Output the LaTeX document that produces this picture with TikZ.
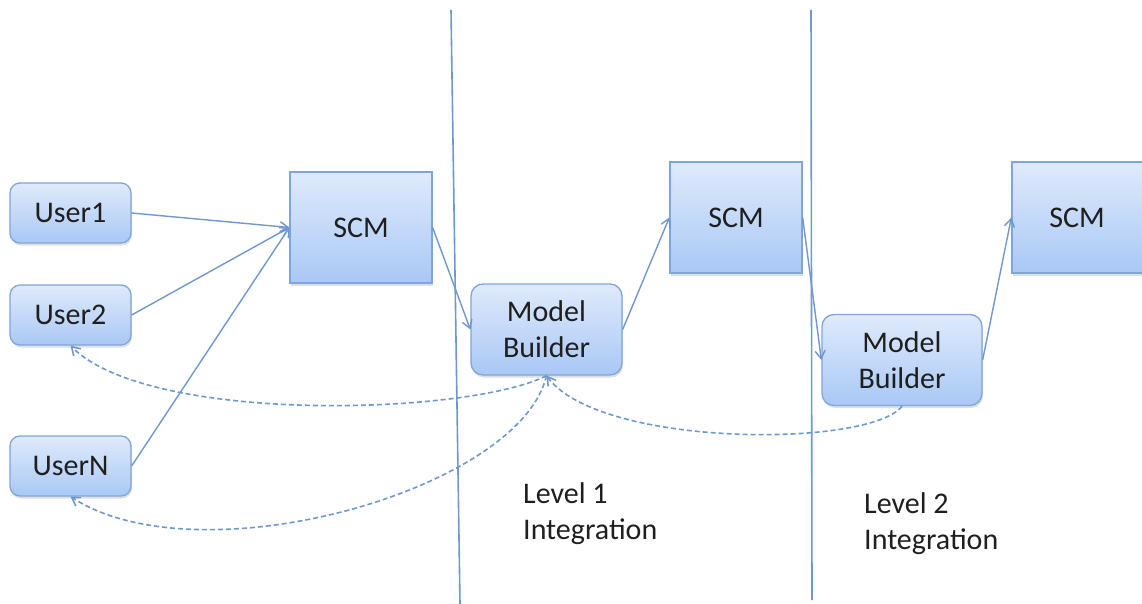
\documentclass[tikz,border=0pt]{standalone}
\usepackage{fontspec}
\setmainfont{Carlito}
\usetikzlibrary{arrows.meta,shadows}
\definecolor{boxtop}{HTML}{DFEAFC}
\definecolor{boxbot}{HTML}{A9C8F5}
\definecolor{boxedge}{HTML}{7FA6DA}
\definecolor{wire}{HTML}{6E98CF}
\definecolor{ink}{HTML}{1F1F1F}
\tikzset{
  base/.style={draw=boxedge, line width=1.3pt, top color=boxtop, bottom color=boxbot,
    text=ink, font=\fontsize{30}{36}\selectfont, align=center, inner sep=0pt,
    drop shadow={shadow xshift=1pt, shadow yshift=-2.5pt, opacity=0.25}},
  userbox/.style={base, rounded corners=10pt, minimum width=121pt, minimum height=60pt},
  scmbox/.style={base, minimum height=111pt},
  mbbox/.style={base, rounded corners=12pt, minimum height=91pt},
  flow/.style={draw=wire, line width=1.4pt, -{Straight Barb[length=8pt,width=10pt]}},
  back/.style={draw=wire, line width=1.6pt, dash pattern=on 5pt off 3pt,
    -{Straight Barb[length=8pt,width=10pt]}},
  divider/.style={draw=wire, line width=1.6pt},
  caption/.style={text=ink, font=\fontsize{30}{36}\selectfont, align=left, inner sep=0pt, anchor=north west}
}
\begin{document}
\begin{tikzpicture}[x=1pt,y=-1pt]
\useasboundingbox (0,0) rectangle (1142,604);
\clip (0,0) rectangle (1142,604);

% integration level boundaries
\coordinate (d1t) at (451,10);
\coordinate (d1b) at (460,604);
\coordinate (d2t) at (811,10);
\coordinate (d2b) at (812,600);
\draw[divider] (d1t) -- (d1b);
\draw[divider] (d2t) -- (d2b);

% users
\node[userbox] (u1) at (70.5,213) {User1};
\node[userbox] (u2) at (70.5,315) {User2};
\node[userbox] (un) at (70.5,466) {UserN};

% source control and model builders
\node[scmbox, minimum width=142pt] (scm1) at (361,227.5) {SCM};
\node[mbbox, minimum width=151pt] (mb1) at (546.5,329.5) {Model\\Builder};
\node[scmbox, minimum width=132pt] (scm2) at (736,217.5) {SCM};
\node[scmbox, minimum width=150pt] (scm3) at (1087,217.5) {SCM\kern20pt};

% second level builder
\node[mbbox, minimum width=160pt] (mb2) at (902,360) {Model\\Builder};

% forward flow
\draw[flow] (u1.east) -- (scm1.west);
\draw[flow] (u2.east) -- (scm1.west);
\draw[flow] (un.east) -- (scm1.west);
\draw[flow] (scm1.east) -- (mb1.west);
\draw[flow] (mb1.east) -- (scm2.west);
\draw[flow] (scm2.east) -- (mb2.west);
\draw[flow] (mb2.east) -- (scm3.west);

% feedback
\draw[back] (mb1.south) .. controls (470,415) and (150,425) .. (u2.south);
\draw[back] (mb1.south) .. controls (520,490) and (200,580) .. (un.south);
\draw[back] (mb2.south) .. controls (870,448) and (600,448) .. (mb1.south);

% level captions
\node[caption] (lv1) at (523,482) {Level 1\\Integration};
\node[caption] (lv2) at (864,492) {Level 2\\Integration};
\end{tikzpicture}
\end{document}
